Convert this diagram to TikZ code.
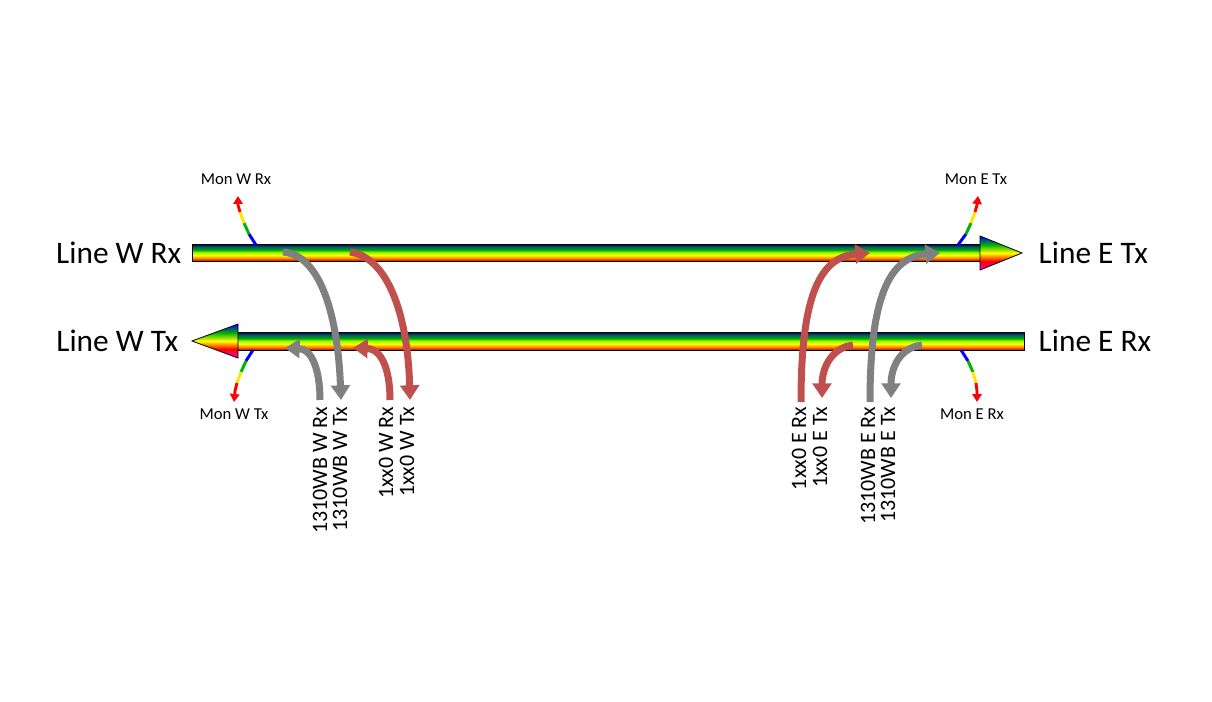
\documentclass[tikz,border=0pt]{standalone}
\usepackage{fontspec}
\setmainfont{Carlito}
\usetikzlibrary{arrows.meta}
\definecolor{cred}{RGB}{192,80,77}
\definecolor{cgray}{RGB}{128,128,128}
\pgfdeclareverticalshading{rainbow}{100bp}{color(0bp)=(red!70!black);color(25bp)=(red!70!black);color(32bp)=(orange!90!red);color(42bp)=(yellow);color(50bp)=(yellow!60!green);color(58bp)=(green!65!black);color(66bp)=(teal!80!black);color(75bp)=(blue!30!black);color(100bp)=(blue!30!black)}
\pgfdeclareverticalshading{headrb}{100bp}{color(0bp)=(magenta!80!red);color(25bp)=(magenta!80!red);color(38bp)=(red);color(50bp)=(yellow);color(62bp)=(green!70!black);color(75bp)=(blue);color(100bp)=(blue)}
\tikzset{
  bar/.style={shading=rainbow,draw=black,line width=0.6pt},
  head/.style={shading=headrb,draw=black,line width=0.6pt},
  conn/.style={line width=5.25pt,-{Triangle[length=11pt,width=14pt]}},
  big/.style={font=\fontsize{23.5}{26}\selectfont},
  mon/.style={font=\fontsize{12.5}{14}\selectfont},
  port/.style={font=\fontsize{16.5}{18}\selectfont,rotate=90,anchor=east,inner sep=1pt},
}
\newcommand\monarrow[6]{%
  \draw[line width=2.2pt,blue] (#1) -- (#2);
  \draw[line width=2.2pt,green!70!black] (#2) -- (#3);
  \draw[line width=2.2pt,yellow!90!orange] (#3) -- (#4);
  \draw[line width=2.2pt,red,-{Triangle[length=6pt,width=7pt,fill=magenta!80!red]}] (#4) -- (#5) -- (#6);
}
\begin{document}
\begin{tikzpicture}[x=0.75pt,y=-0.75pt]
\useasboundingbox (0,0) rectangle (1212,702);
% bars
\path[bar] (192,244) rectangle (981,261);
\path[head] (980,244) -- (980,236) -- (1022,253) -- (980,270) -- (980,261) -- cycle;
\path[bar] (237,332) rectangle (1024,350);
\path[head] (238,332) -- (238,324) -- (192,341) -- (238,358) -- (238,350) -- cycle;
% monitor arrows
\monarrow{256,245}{249,234}{244,223}{240,212}{238,205}{238,196}
\monarrow{253,350}{246,361}{241,372}{237,383}{235,391}{234,402}
\monarrow{958,245}{966,234}{971,223}{975,212}{977,205}{978,196}
\monarrow{961,350}{968,361}{973,372}{976,383}{977,391}{977,402}
\node[mon] (mwr) at (236,179) {Mon W Rx};
\node[mon] (mwt) at (234,414) {Mon W Tx};
\node[mon] (met) at (976,179) {Mon E Tx};
\node[mon] (mer) at (972,414) {Mon E Rx};
% big labels
\node[big,anchor=east] (lwr) at (186,253) {Line W Rx};
\node[big,anchor=east] (lwt) at (183,341) {Line W Tx};
\node[big,anchor=west] (let) at (1034,253) {Line E Tx};
\node[big,anchor=west] (ler) at (1034,341) {Line E Rx};
% connectors west
\draw[conn,cgray] (283,252) .. controls (322,255) and (338,320) .. (341,400);
\draw[conn,cred] (350,252) .. controls (390,258) and (408,320) .. (410,400);
\draw[conn,cgray] (320,400) .. controls (320,370) and (312,349) .. (285,348);
\draw[conn,cred] (390,400) .. controls (390,370) and (382,349) .. (353,348);
% connectors east
\draw[conn,cred] (801,402) .. controls (801,300) and (818,257) .. (870,253);
\draw[conn,cgray] (870,402) .. controls (870,300) and (888,257) .. (940,253);
\draw[conn,cred] (853,345) .. controls (830,348) and (822,370) .. (822,398);
\draw[conn,cgray] (922,345) .. controls (898,348) and (891,370) .. (891,398);
% port labels
\node[port] (p1) at (320,405) {1310WB W Rx};
\node[port] (p2) at (340,405) {1310WB W Tx};
\node[port] (p3) at (386,405) {1xx0 W Rx};
\node[port] (p4) at (407,405) {1xx0 W Tx};
\node[port] (p5) at (799,405) {1xx0 E Rx};
\node[port] (p6) at (820,405) {1xx0 E Tx};
\node[port] (p7) at (868,405) {1310WB E Rx};
\node[port] (p8) at (888,405) {1310WB E Tx};
\end{tikzpicture}
\end{document}
